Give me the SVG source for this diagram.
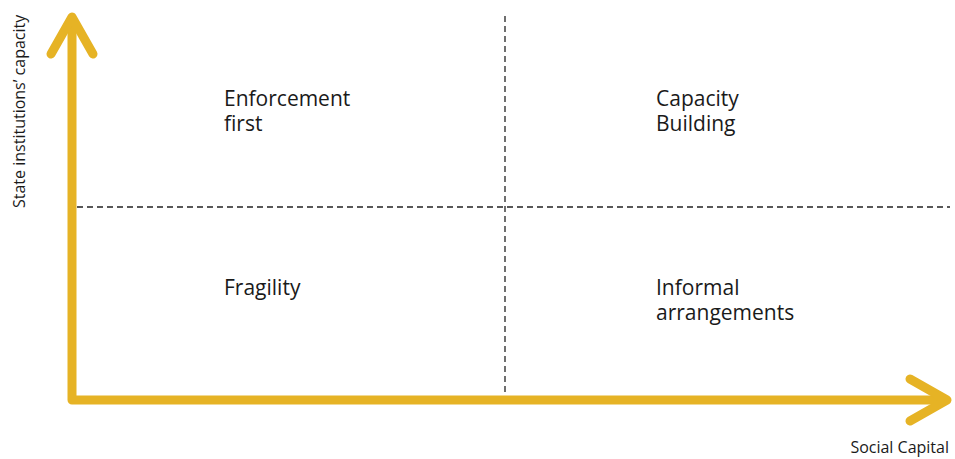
<svg xmlns="http://www.w3.org/2000/svg" width="955" height="459" viewBox="0 0 955 459">
<style>
.axis{fill:none;stroke:#E6B325;stroke-width:9;stroke-linecap:round;stroke-linejoin:round}
.dash{fill:none;stroke:#222;stroke-width:1.3;stroke-dasharray:6 4}
.lbl{font-family:"Open Sans","Noto Sans",sans-serif;font-size:21px;fill:#1a1a1a}
.ax{font-family:"Open Sans","Noto Sans",sans-serif;font-size:16px;fill:#1a1a1a}
</style>
<rect width="955" height="459" fill="#fff"/>
<g id="connectors">
<line class="dash" x1="77" y1="207" x2="950" y2="207"/>
<line class="dash" x1="505" y1="16" x2="505" y2="398"/>
<polyline class="axis" points="72,20 72,400 944,400"/>
<polyline class="axis" points="51,54 72,17 93,54"/>
<polyline class="axis" points="910,379 947,400 910,421"/>
</g>
<g id="y-label"><text class="ax" transform="translate(25,208) rotate(-90)">State institutions’ capacity</text></g>
<g id="x-label"><text class="ax" x="949" y="453" text-anchor="end">Social Capital</text></g>
<g id="enforcement"><text class="lbl" x="224" y="106">Enforcement</text><text class="lbl" x="224" y="131">first</text></g>
<g id="capacity"><text class="lbl" x="656" y="106">Capacity</text><text class="lbl" x="656" y="131">Building</text></g>
<g id="fragility"><text class="lbl" x="224" y="295">Fragility</text></g>
<g id="informal"><text class="lbl" x="656" y="295">Informal</text><text class="lbl" x="656" y="320">arrangements</text></g>
</svg>
